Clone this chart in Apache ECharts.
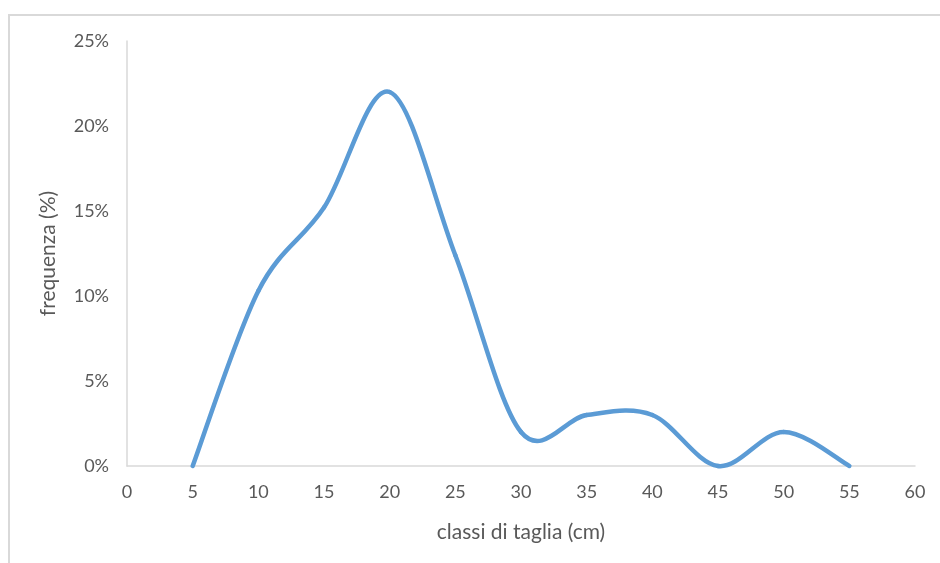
<!DOCTYPE html>
<html>
<head>
<meta charset="utf-8">
<script src="https://cdn.jsdelivr.net/npm/echarts@6/dist/echarts.min.js"></script>
<style>
  html, body { margin: 0; padding: 0; background: #fff; }
  #frame { position: absolute; left: 8px; top: 14px; width: 940px; height: 560px;
           border-left: 2px solid #d9d9d9; border-top: 2px solid #d9d9d9; box-sizing: border-box; }
  #chart { position: absolute; left: 0; top: 0; width: 940px; height: 563px; }
</style>
</head>
<body>
<div id="frame"></div>
<div id="chart"></div>
<script>
// size classes (cm) and relative frequency (%)
const classes = [5, 10, 15, 20, 25, 30, 35, 40, 45, 50, 55];
const frequency = [0, 10.3, 15.2, 22.0, 12.4, 2.0, 3.0, 3.0, 0, 2.0, 0];
const xTicks = { min: 0, max: 60, step: 5 };
const yTicks = { min: 0, max: 25, step: 5 };

const points = classes.map((c, i) => [c, frequency[i]]);
const labelFont = 'Lato, "Open Sans", sans-serif';

// Each item draws the curve segment from point i to point i+1 as a cubic
// Bezier whose control points follow the Catmull-Rom rule (neighbour slope / 6),
// all positions converted through the chart's own axes.
function renderSegment(params, api) {
  const i = params.dataIndex;
  if (i >= points.length - 1) return null;
  const p = k => api.coord(points[Math.max(0, Math.min(points.length - 1, k))]);
  const p0 = p(i - 1), p1 = p(i), p2 = p(i + 1), p3 = p(i + 2);
  const c1 = [p1[0] + (p2[0] - p0[0]) / 6, p1[1] + (p2[1] - p0[1]) / 6];
  const c2 = [p2[0] - (p3[0] - p1[0]) / 6, p2[1] - (p3[1] - p1[1]) / 6];
  return {
    type: 'bezierCurve',
    shape: { x1: p1[0], y1: p1[1], cpx1: c1[0], cpy1: c1[1], cpx2: c2[0], cpy2: c2[1], x2: p2[0], y2: p2[1] },
    style: { stroke: '#5b9bd5', lineWidth: 4.5, fill: null, lineCap: 'round' }
  };
}

const chart = echarts.init(document.getElementById('chart'), null, { renderer: 'canvas' });
chart.setOption({
  animation: false,
  backgroundColor: 'transparent',
  grid: { left: 127, right: 25, top: 41, bottom: 97 },
  xAxis: {
    type: 'value',
    min: xTicks.min, max: xTicks.max, interval: xTicks.step,
    name: 'classi di taglia (cm)',
    nameLocation: 'middle',
    nameGap: 56,
    nameTextStyle: { color: '#595959', fontSize: 21, fontFamily: labelFont },
    axisLine: { show: true, lineStyle: { color: '#d9d9d9', width: 1.5 } },
    axisTick: { show: false },
    splitLine: { show: false },
    axisLabel: { color: '#595959', fontSize: 18, fontFamily: labelFont, margin: 17 }
  },
  yAxis: {
    type: 'value',
    min: yTicks.min, max: yTicks.max, interval: yTicks.step,
    name: 'frequenza (%)',
    nameLocation: 'middle',
    nameGap: 68,
    nameTextStyle: { color: '#595959', fontSize: 21, fontFamily: labelFont },
    axisLine: { show: true, lineStyle: { color: '#d9d9d9', width: 1.5 } },
    axisTick: { show: false },
    splitLine: { show: false },
    axisLabel: { color: '#595959', fontSize: 18, fontFamily: labelFont, margin: 18,
                 formatter: v => v + '%' }
  },
  series: [{
    type: 'custom',
    coordinateSystem: 'cartesian2d',
    data: points,
    encode: { x: 0, y: 1 },
    clip: false,
    renderItem: renderSegment
  }]
});
</script>
</body>
</html>
